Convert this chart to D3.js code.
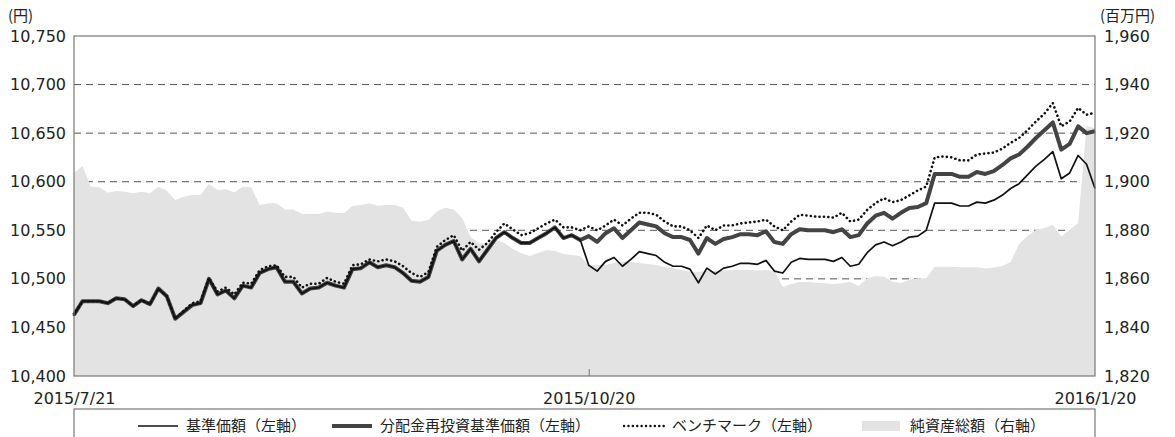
<!DOCTYPE html>
<html>
<head>
<meta charset="utf-8">
<script src="https://cdn.jsdelivr.net/npm/d3@7"></script>
<style>
  body { margin: 0; background: #fff; }
  svg text { font-family: "DejaVu Sans", "Noto Sans CJK JP", sans-serif; fill: #222; }
  .jp { font-family: "Noto Sans CJK JP", sans-serif; }
</style>
</head>
<body>
<div id="chart"></div>
<script>
// trading days (TSE calendar) between the first and last date
var startDate = new Date(2015, 6, 21),
  endDate = new Date(2016, 0, 20),
  holidays = ['2015/9/21','2015/9/22','2015/9/23','2015/10/12','2015/11/3','2015/11/23',
    '2015/12/23','2015/12/31','2016/1/1','2016/1/11'];

var xTicks = ['2015/7/21', '2015/10/20', '2016/1/20'];
var leftTicks = [10400, 10450, 10500, 10550, 10600, 10650, 10700, 10750];
var rightTicks = [1820, 1840, 1860, 1880, 1900, 1920, 1940, 1960];
var gridTicks = [10450, 10500, 10550, 10600, 10650, 10700];

// 基準価額 (円)
var basePrice = [
  10463, 10477, 10477, 10477, 10475, 10480, 10479, 10472, 10478, 10474,
  10490, 10482, 10459, 10466, 10473, 10475, 10500, 10484, 10488, 10480,
  10493, 10491, 10506, 10510, 10512, 10497, 10497, 10485, 10490, 10491,
  10496, 10493, 10491, 10510, 10511, 10517, 10512, 10514, 10512, 10506,
  10498, 10497, 10502, 10529, 10535, 10539, 10520, 10531, 10518, 10530,
  10542, 10548, 10542, 10537, 10537, 10542, 10547, 10553, 10542, 10545,
  10540, 10514, 10508, 10518, 10522, 10513, 10520, 10528, 10526, 10524,
  10517, 10513, 10513, 10510, 10496, 10511, 10505, 10511, 10513, 10516,
  10516, 10515, 10519, 10508, 10506, 10517, 10521, 10520, 10520, 10520,
  10518, 10522, 10513, 10515, 10527, 10535, 10538, 10534, 10538, 10543,
  10544, 10550, 10578, 10578, 10578, 10575, 10575, 10579, 10578, 10581,
  10586, 10593, 10598, 10607, 10616, 10623, 10631, 10603, 10609, 10627,
  10618, 10593
];

// 分配金再投資基準価額 (円)
var reinvested = [
  10463, 10477, 10477, 10477, 10475, 10480, 10479, 10472, 10478, 10474,
  10490, 10482, 10459, 10466, 10473, 10475, 10500, 10484, 10488, 10480,
  10493, 10491, 10506, 10510, 10512, 10497, 10497, 10485, 10490, 10491,
  10496, 10493, 10491, 10510, 10511, 10517, 10512, 10514, 10512, 10506,
  10498, 10497, 10502, 10529, 10535, 10539, 10520, 10531, 10518, 10530,
  10542, 10548, 10542, 10537, 10537, 10542, 10547, 10553, 10542, 10545,
  10540, 10544, 10538, 10547, 10552, 10542, 10550, 10558, 10556, 10554,
  10547, 10543, 10543, 10540, 10526, 10542, 10536, 10541, 10543, 10546,
  10546, 10545, 10549, 10538, 10536, 10546, 10551, 10550, 10550, 10550,
  10548, 10551, 10543, 10545, 10557, 10565, 10568, 10562, 10568, 10573,
  10574, 10578, 10608, 10608, 10608, 10605, 10605, 10610, 10608, 10611,
  10617, 10624, 10628, 10636, 10645, 10653, 10661, 10633, 10639, 10657,
  10650, 10652
];

// ベンチマーク (円)
var benchmark = [
  10463, 10477, 10477, 10477, 10475, 10480, 10479, 10472, 10478, 10474,
  10490, 10482, 10459, 10467, 10475, 10477, 10501, 10487, 10491, 10484,
  10496, 10495, 10509, 10513, 10514, 10502, 10502, 10491, 10495, 10495,
  10501, 10497, 10495, 10514, 10515, 10520, 10518, 10520, 10518, 10513,
  10506, 10502, 10507, 10533, 10540, 10545, 10529, 10538, 10530, 10537,
  10548, 10557, 10551, 10545, 10547, 10552, 10557, 10561, 10553, 10553,
  10550, 10554, 10550, 10555, 10561, 10555, 10562, 10568, 10568, 10566,
  10559, 10554, 10554, 10550, 10542, 10555, 10550, 10555, 10555, 10557,
  10558, 10559, 10561, 10554, 10550, 10559, 10566, 10565, 10564, 10564,
  10563, 10568, 10559, 10561, 10571, 10578, 10583, 10579, 10581, 10586,
  10591, 10595, 10625, 10626, 10625, 10622, 10622, 10628, 10629, 10630,
  10634, 10640, 10645, 10653, 10662, 10670, 10681, 10657, 10662, 10676,
  10669, 10671
];

// 純資産総額 (百万円)
var netAssets = [
  1903.6, 1906.5, 1897.9, 1897.7, 1895.5, 1896.2, 1895.9, 1895.2, 1895.9, 1895.2,
  1897.9, 1896.3, 1892.5, 1893.8, 1894.5, 1894.5, 1899.1, 1896.6, 1896.9, 1895.6,
  1897.9, 1897.7, 1890.4, 1891.1, 1891.1, 1888.6, 1888.6, 1886.7, 1886.7, 1886.7,
  1887.7, 1887.2, 1887.0, 1890.0, 1890.4, 1891.1, 1890.1, 1890.4, 1890.4, 1889.3,
  1883.9, 1883.5, 1884.2, 1887.7, 1889.3, 1888.6, 1885.1, 1877.2, 1874.8, 1874.4,
  1876.0, 1874.8, 1872.3, 1870.6, 1869.4, 1870.6, 1871.9, 1871.5, 1870.2, 1869.8,
  1869.4, 1865.7, 1865.7, 1865.7, 1866.5, 1867.1, 1866.9, 1866.5, 1866.1, 1865.7,
  1864.9, 1864.4, 1863.6, 1862.9, 1862.9, 1863.2, 1863.2, 1863.4, 1863.6, 1863.6,
  1863.6, 1863.4, 1863.6, 1863.2, 1856.6, 1857.9, 1858.7, 1858.7, 1858.4, 1858.2,
  1857.9, 1858.2, 1858.8, 1857.1, 1860.2, 1861.2, 1860.9, 1858.8, 1858.3, 1859.5,
  1860.2, 1860.2, 1865.0, 1865.0, 1865.0, 1864.8, 1864.8, 1864.8, 1864.3, 1864.7,
  1865.3, 1866.9, 1874.4, 1877.6, 1880.1, 1880.9, 1882.2, 1877.4, 1880.1, 1883.0,
  1922.9, 1922.1
];

var legendItems = [
  {label: '基準価額（左軸）', type: 'thin'},
  {label: '分配金再投資基準価額（左軸）', type: 'bold'},
  {label: 'ベンチマーク（左軸）', type: 'dot'},
  {label: '純資産総額（右軸）', type: 'area'}
];

var width = 1175, height = 437,
  margin = {top: 36, right: 80, bottom: 61, left: 74},
  innerW = width - margin.left - margin.right,
  innerH = height - margin.top - margin.bottom;

var fmtDate = d3.timeFormat('%Y/%-m/%-d');
var dates = d3.timeDay.range(startDate, d3.timeDay.offset(endDate, 1))
  .map(fmtDate)
  .filter(function(s){
    var d = d3.timeParse('%Y/%m/%d')(s);
    return d.getDay() != 0 && d.getDay() != 6 && holidays.indexOf(s) < 0;
  });

var svg = d3.select('#chart').append('svg')
  .attr('width', width)
  .attr('height', height);

var g = svg.append('g')
  .attr('transform', 'translate(' + margin.left + ',' + margin.top + ')');

var x = d3.scalePoint().domain(dates).range([0, innerW]);
var yL = d3.scaleLinear().domain([10400, 10750]).range([innerH, 0]);
var yR = d3.scaleLinear().domain([1820, 1960]).range([innerH, 0]);

// grid
g.selectAll('.grid').data(gridTicks).enter().append('line')
  .attr('x1', 0).attr('x2', innerW)
  .attr('y1', function(d){ return yL(d); })
  .attr('y2', function(d){ return yL(d); })
  .style('stroke', '#555')
  .style('stroke-width', 1)
  .style('stroke-dasharray', '7,5');

// net assets area
var area = d3.area()
  .x(function(d, i){ return x(dates[i]); })
  .y0(innerH)
  .y1(function(d){ return yR(d); });

g.append('path')
  .datum(netAssets)
  .attr('d', area)
  .style('fill', '#e3e3e3');

function lineL(){
  return d3.line()
    .x(function(d, i){ return x(dates[i]); })
    .y(function(d){ return yL(d); });
}

g.append('path').datum(reinvested)
  .attr('d', lineL())
  .style('fill', 'none')
  .style('stroke', '#444')
  .style('stroke-width', 4)
  .style('stroke-linejoin', 'round');

g.append('path').datum(basePrice)
  .attr('d', lineL())
  .style('fill', 'none')
  .style('stroke', '#111')
  .style('stroke-width', 1.7)
  .style('stroke-linejoin', 'round');

g.append('path').datum(benchmark)
  .attr('d', lineL())
  .style('fill', 'none')
  .style('stroke', '#111')
  .style('stroke-width', 2.6)
  .style('stroke-linecap', 'round')
  .style('stroke-dasharray', '0.1,4.3');

// frame
g.append('rect')
  .attr('width', innerW).attr('height', innerH)
  .style('fill', 'none')
  .style('stroke', '#777')
  .style('stroke-width', 1.2);

// axes
var axL = g.append('g')
  .call(d3.axisLeft(yL).tickValues(leftTicks).tickSize(0).tickPadding(8).tickFormat(d3.format(',')));
var axR = g.append('g')
  .attr('transform', 'translate(' + innerW + ',0)')
  .call(d3.axisRight(yR).tickValues(rightTicks).tickSize(0).tickPadding(9).tickFormat(d3.format(',')));
var axX = g.append('g')
  .attr('transform', 'translate(0,' + innerH + ')')
  .call(d3.axisBottom(x).tickValues(xTicks).tickSize(-7).tickPadding(17));

[axL, axR, axX].forEach(function(a){
  a.select('.domain').remove();
  a.selectAll('text').style('font-size', '16px').style('fill', '#222')
    .style('font-family', '"DejaVu Sans", sans-serif');
  a.selectAll('line').style('stroke', '#777');
});
axX.selectAll('.tick line').filter(function(d, i){ return i != 1; }).remove();

// unit labels
svg.append('text').attr('class', 'jp')
  .attr('x', 8).attr('y', 21)
  .style('font-size', '15px')
  .text('(円)');
svg.append('text').attr('class', 'jp')
  .attr('x', 1100).attr('y', 21)
  .style('font-size', '15px')
  .text('(百万円)');

// legend
var lg = svg.append('g');
lg.append('rect')
  .attr('x', margin.left).attr('y', 409)
  .attr('width', innerW).attr('height', 40)
  .style('fill', '#fff')
  .style('stroke', '#777')
  .style('stroke-width', 1.2);

var legendX = [138, 332, 624, 862];
var ly = 426;
legendItems.forEach(function(it, i){
  var lx = legendX[i];
  var item = lg.append('g').attr('transform', 'translate(' + lx + ',' + ly + ')');
  if(it.type == 'area'){
    item.append('rect').attr('x', 0).attr('y', -5).attr('width', 38).attr('height', 10)
      .style('fill', '#e3e3e3');
  } else {
    var ln = item.append('line').attr('x1', 0).attr('x2', 40).attr('y1', 0).attr('y2', 0);
    if(it.type == 'thin') ln.style('stroke', '#111').style('stroke-width', 1.7);
    if(it.type == 'bold') ln.style('stroke', '#444').style('stroke-width', 4);
    if(it.type == 'dot') ln.style('stroke', '#111').style('stroke-width', 2.4)
      .style('stroke-linecap', 'round').style('stroke-dasharray', '0.1,4.3');
  }
  item.append('text').attr('class', 'jp')
    .attr('x', 48).attr('dy', '0.35em')
    .style('font-size', '15px')
    .text(it.label);
});
</script>
</body>
</html>
